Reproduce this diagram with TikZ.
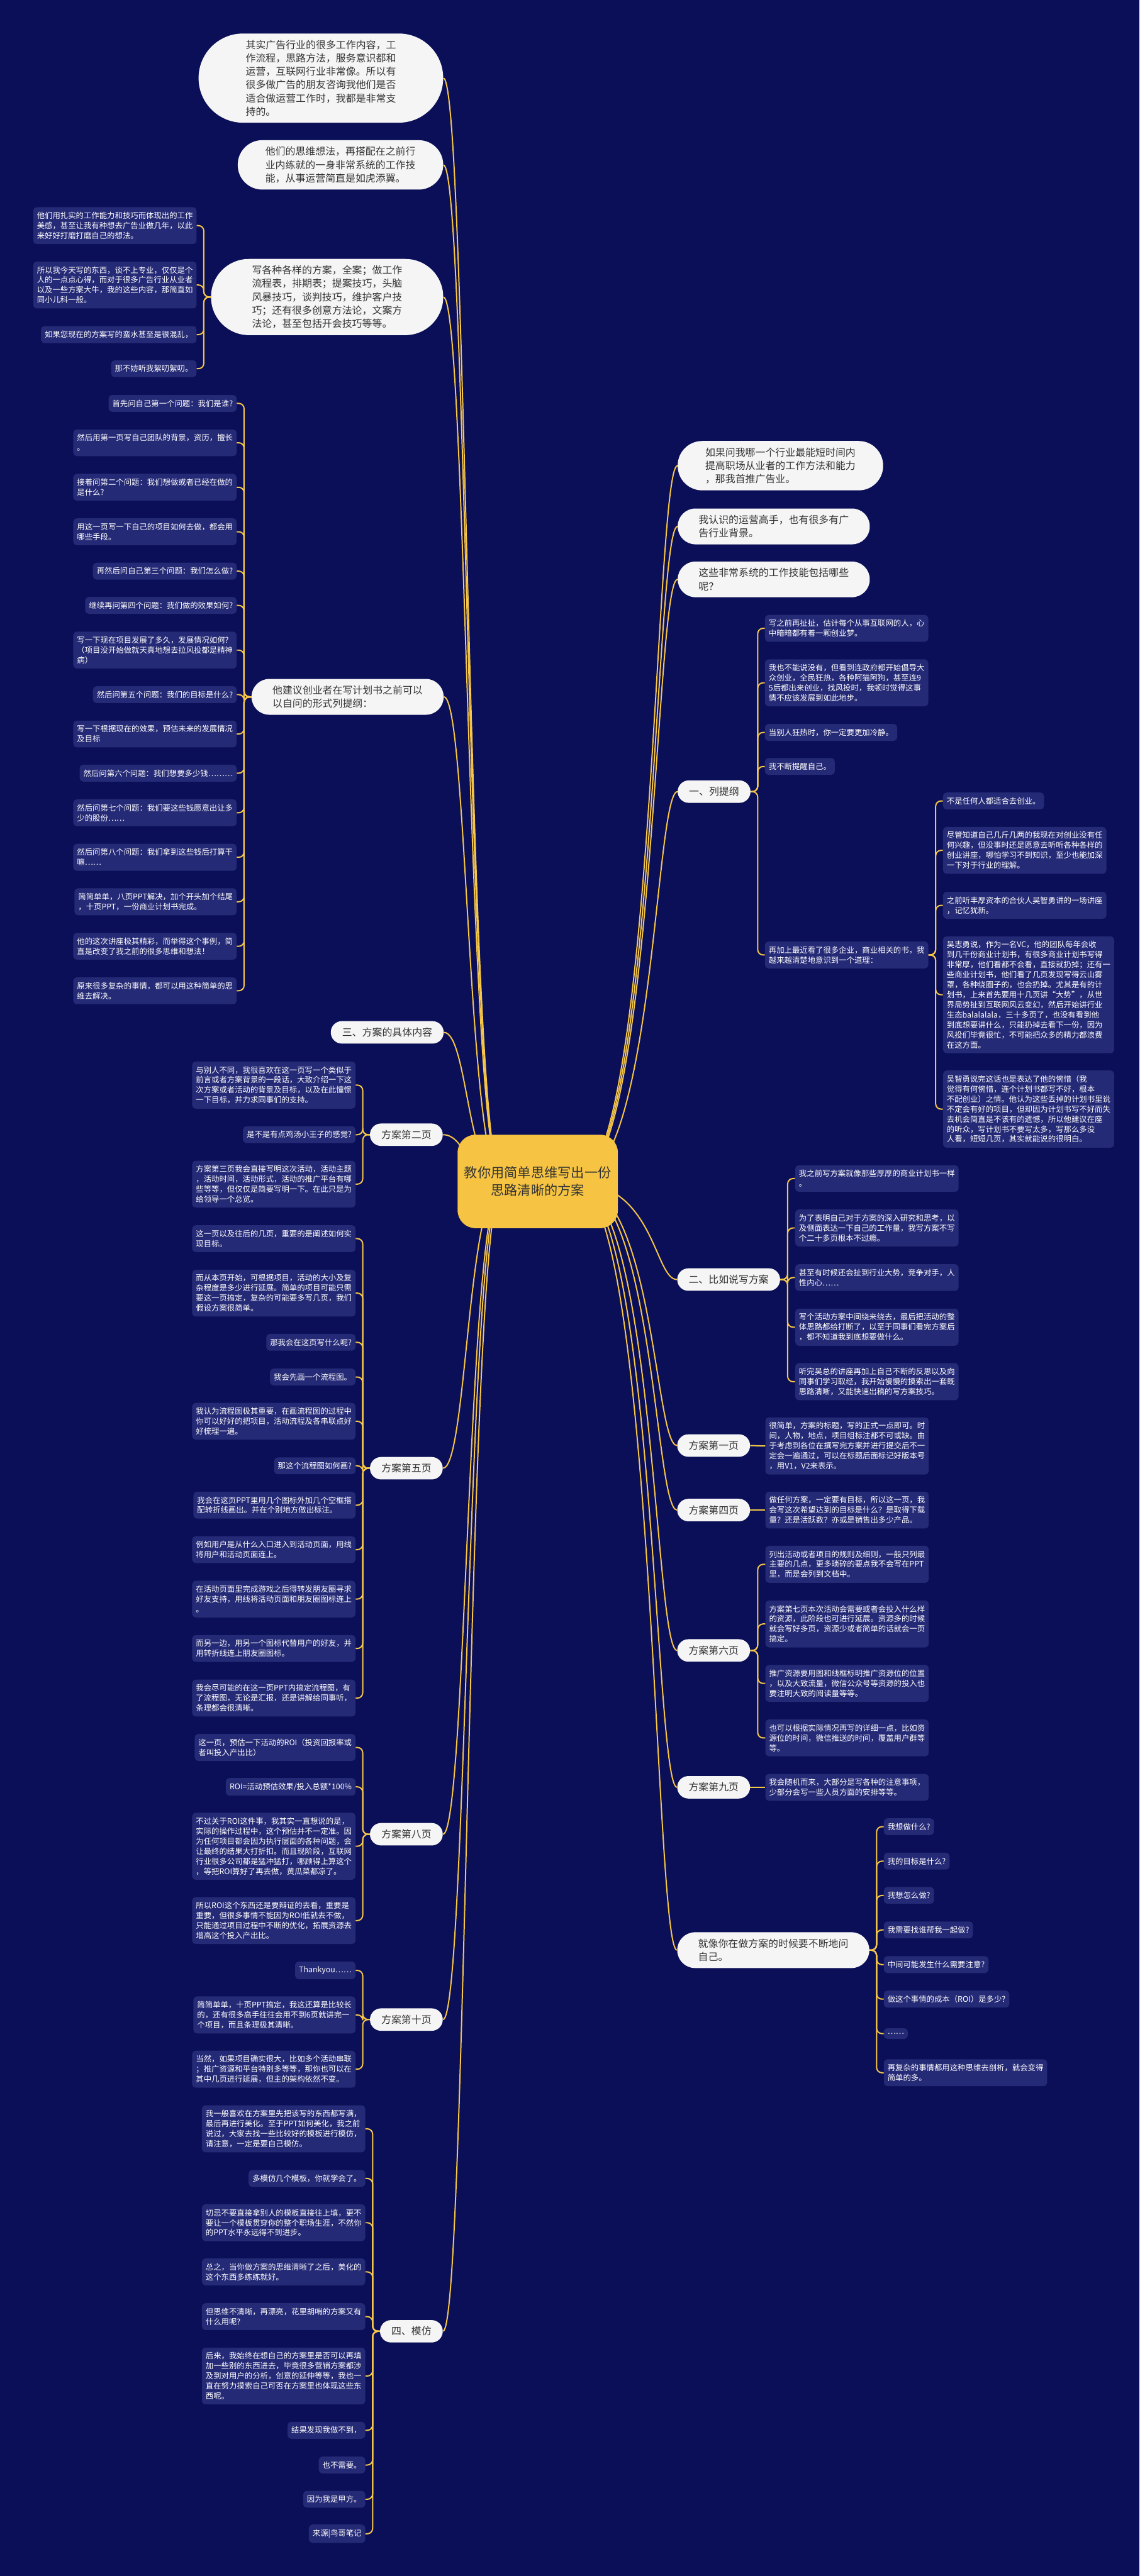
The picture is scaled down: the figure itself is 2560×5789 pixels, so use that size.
\documentclass[tikz,border=0pt]{standalone}
\usepackage{fontspec}
\setmainfont{Noto Sans CJK SC}
\usetikzlibrary{calc}
\definecolor{bg}{RGB}{11,15,88}
\definecolor{notefill}{RGB}{37,42,118}
\definecolor{bubblefill}{RGB}{245,245,245}
\definecolor{bubbletext}{RGB}{51,51,51}
\definecolor{linecol}{RGB}{245,198,72}
\definecolor{rootfill}{RGB}{246,196,66}
\newcommand\nfont{\fontsize{8.75pt}{11.25pt}\selectfont}
\newcommand\bfont{\fontsize{11.25pt}{15pt}\selectfont}
\newcommand\rfont{\fontsize{15pt}{20pt}\selectfont}
\begin{document}
\begin{tikzpicture}[x=0.5pt,y=-0.5pt,
  note/.style={fill=notefill, rounded corners=4pt, text=white, font=\nfont, align=left, inner xsep=4.25pt, inner ysep=5.4pt},
  bubble/.style 2 args={fill=bubblefill, text=bubbletext, font=\bfont, align=left, rounded corners=#1, inner xsep=#2, inner ysep=7.4pt},
  lvl/.style={fill=bubblefill, text=bubbletext, font=\bfont, rounded corners=12.5pt, inner xsep=12.75pt, inner ysep=7.4pt},
  rootnode/.style={fill=rootfill, rounded corners=20pt, text=bubbletext, font=\rfont, align=center, minimum width=180pt, minimum height=105pt},
  link/.style={draw=linecol, line width=1.4pt},
  kid/.style={link, rounded corners=6pt},
]
\fill[bg] (0,0) rectangle (2560,5789);

% ---------- left first level ----------
\node[bubble={50pt}{53pt}, anchor=east] (B1) at (996,175.5) {其实广告行业的很多工作内容，工\\作流程，思路方法，服务意识都和\\运营，互联网行业非常像。所以有\\很多做广告的朋友咨询我他们是否\\适合做运营工作时，我都是非常支\\持的。};
\node[bubble={27.5pt}{31pt}, anchor=east] (B2) at (996,370.5) {他们的思维想法，再搭配在之前行\\业内练就的一身非常系统的工作技\\能，从事运营简直是如虎添翼。};
\node[bubble={42.5pt}{46pt}, anchor=east] (B3) at (996,667.5) {写各种各样的方案，全案；做工作\\流程表，排期表；提案技巧，头脑\\风暴技巧，谈判技巧，维护客户技\\巧；还有很多创意方法论，文案方\\法论，甚至包括开会技巧等等。};
\node[bubble={20pt}{23.5pt}, anchor=east] (Q) at (997,1566) {他建议创业者在写计划书之前可以\\以自问的形式列提纲：};
\node[lvl, anchor=east] (S3) at (997,2320) {三、方案的具体内容};
\node[lvl, anchor=east] (P2) at (995,2550) {方案第二页};
\node[lvl, anchor=east] (P5) at (995,3299.5) {方案第五页};
\node[lvl, anchor=east] (P8) at (995,4122) {方案第八页};
\node[lvl, anchor=east] (P10) at (995,4538.5) {方案第十页};
\node[lvl, anchor=east] (S4) at (995,5239) {四、模仿};

% ---------- right first level ----------
\node[bubble={27.5pt}{31pt}, anchor=west] (R1) at (1522,1046.5) {如果问我哪一个行业最能短时间内\\提高职场从业者的工作方法和能力\\，那我首推广告业。};
\node[bubble={20pt}{23.5pt}, anchor=west] (R2) at (1522,1183) {我认识的运营高手，也有很多有广\\告行业背景。};
\node[bubble={20pt}{23.5pt}, anchor=west] (R3) at (1522,1302) {这些非常系统的工作技能包括哪些\\呢？};
\node[lvl, anchor=west] (S1) at (1522,1779) {一、列提纲};
\node[lvl, anchor=west] (S2) at (1521,2875.5) {二、比如说写方案};
\node[lvl, anchor=west] (P1) at (1521,3248.5) {方案第一页};
\node[lvl, anchor=west] (P4) at (1521,3393.5) {方案第四页};
\node[lvl, anchor=west] (P6) at (1521,3709) {方案第六页};
\node[lvl, anchor=west] (P9) at (1521,4016.5) {方案第九页};
\node[bubble={20pt}{23.5pt}, anchor=west] (JX) at (1521,4382.5) {就像你在做方案的时候要不断地问\\自己。};

% ---------- root connectors ----------
\coordinate (rl) at (1130,2657);
\coordinate (rr) at (1290,2657);
\foreach \c in {B1,B2,B3,Q,S3,P2,P5,P8,P10,S4}{
  \draw[link] (rl) .. controls ($(rl)+(-80,0)$) and ($(\c.east)+(54,0)$) .. (\c.east);
}
\foreach \c in {R1,R2,R3,S1,S2,P1,P4,P6,P9,JX}{
  \draw[link] (rr) .. controls ($(rr)+(180,0)$) and ($(\c.west)+(-51,0)$) .. (\c.west);
}
\node[rootnode] (root) at (1208,2655) {教你用简单思维写出一份\\思路清晰的方案};

% ---------- B3 children ----------
\node[note, anchor=east] (a1) at (442,507) {他们用扎实的工作能力和技巧而体现出的工作\\美感，甚至让我有种想去广告业做几年，以此\\来好好打磨打磨自己的想法。};
\node[note, anchor=east] (a2) at (442,640.5) {所以我今天写的东西，谈不上专业，仅仅是个\\人的一点点心得，而对于很多广告行业从业者\\以及一些方案大牛，我的这些内容，那简直如\\同小儿科一般。};
\node[note, anchor=east] (a3) at (442,752) {如果您现在的方案写的蛮水甚至是很混乱，};
\node[note, anchor=east] (a4) at (442,828.5) {那不妨听我絮叨絮叨。};
\foreach \c in {a1,a2,a3,a4}{
  \draw[kid] (B3.west) -- ($(B3.west)!0.5!(\c.east|-B3.west)$) |- (\c.east);
}

% ---------- Q children ----------
\node[note, anchor=east] (n1) at (532,906.5) {首先问自己第一个问题：我们是谁?};
\node[note, anchor=east] (n2) at (532,995) {然后用第一页写自己团队的背景，资历，擅长\\。};
\node[note, anchor=east] (n3) at (532,1095) {接着问第二个问题：我们想做或者已经在做的\\是什么?};
\node[note, anchor=east] (n4) at (532,1195) {用这一页写一下自己的项目如何去做，都会用\\哪些手段。};
\node[note, anchor=east] (n5) at (532,1283.5) {再然后问自己第三个问题：我们怎么做?};
\node[note, anchor=east] (n6) at (532,1360.5) {继续再问第四个问题：我们做的效果如何?};
\node[note, anchor=east] (n7) at (532,1461) {写一下现在项目发展了多久，发展情况如何?\\（项目没开始做就天真地想去拉风投都是精神\\病）};
\node[note, anchor=east] (n8) at (532,1561) {然后问第五个问题：我们的目标是什么?};
\node[note, anchor=east] (n9) at (532,1649.5) {写一下根据现在的效果，预估未来的发展情况\\及目标};
\node[note, anchor=east] (n10) at (532,1737.5) {然后问第六个问题：我们想要多少钱………};
\node[note, anchor=east] (n11) at (532,1826.5) {然后问第七个问题：我们要这些钱愿意出让多\\少的股份……};
\node[note, anchor=east] (n12) at (532,1926.5) {然后问第八个问题：我们拿到这些钱后打算干\\嘛……};
\node[note, anchor=east] (n13) at (532,2026.5) {简简单单，八页PPT解决，加个开头加个结尾\\，十页PPT，一份商业计划书完成。};
\node[note, anchor=east] (n14) at (532,2126.5) {他的这次讲座极其精彩，而举得这个事例，简\\直是改变了我之前的很多思维和想法！};
\node[note, anchor=east] (n15) at (532,2226.5) {原来很多复杂的事情，都可以用这种简单的思\\维去解决。};
\foreach \c in {n1,n2,n3,n4,n5,n6,n7,n8,n9,n10,n11,n12,n13,n14,n15}{
  \draw[kid] (Q.west) -- ($(Q.west)!0.5!(\c.east|-Q.west)$) |- (\c.east);
}

% ---------- P2 children ----------
\node[note, anchor=east] (q1) at (799,2438.5) {与别人不同，我很喜欢在这一页写一个类似于\\前言或者方案背景的一段话，大致介绍一下这\\次方案或者活动的背景及目标，以及在此憧憬\\一下目标，并力求同事们的支持。};
\node[note, anchor=east] (q2) at (799,2550) {是不是有点鸡汤小王子的感觉?};
\node[note, anchor=east] (q3) at (799,2661) {方案第三页我会直接写明这次活动，活动主题\\，活动时间，活动形式，活动的推广平台有哪\\些等等，但仅仅是简要写明一下。在此只是为\\给领导一个总览。};
\foreach \c in {q1,q2,q3}{
  \draw[kid] (P2.west) -- ($(P2.west)!0.5!(\c.east|-P2.west)$) |- (\c.east);
}

% ---------- P5 children ----------
\node[note, anchor=east] (r1) at (799,2783.5) {这一页以及往后的几页，重要的是阐述如何实\\现目标。};
\node[note, anchor=east] (r2) at (799,2906) {而从本页开始，可根据项目，活动的大小及复\\杂程度是多少进行延展。简单的项目可能只需\\要这一页搞定，复杂的可能要多写几页，我们\\假设方案很简单。};
\node[note, anchor=east] (r3) at (799,3016.5) {那我会在这页写什么呢?};
\node[note, anchor=east] (r4) at (799,3094.5) {我会先画一个流程图。};
\node[note, anchor=east] (r5) at (799,3194) {我认为流程图极其重要，在画流程图的过程中\\你可以好好的把项目，活动流程及各串联点好\\好梳理一遍。};
\node[note, anchor=east] (r6) at (799,3294) {那这个流程图如何画?};
\node[note, anchor=east] (r7) at (799,3382.5) {我会在这页PPT里用几个图标外加几个空框搭\\配转折线画出。并在个别地方做出标注。};
\node[note, anchor=east] (r8) at (799,3482.5) {例如用户是从什么入口进入到活动页面，用线\\将用户和活动页面连上。};
\node[note, anchor=east] (r9) at (799,3593.5) {在活动页面里完成游戏之后得转发朋友圈寻求\\好友支持，用线将活动页面和朋友圈图标连上\\。};
\node[note, anchor=east] (r10) at (799,3704.5) {而另一边，用另一个图标代替用户的好友，并\\用转折线连上朋友圈图标。};
\node[note, anchor=east] (r11) at (799,3816) {我会尽可能的在这一页PPT内搞定流程图，有\\了流程图，无论是汇报，还是讲解给同事听，\\条理都会很清晰。};
\foreach \c in {r1,r2,r3,r4,r5,r6,r7,r8,r9,r10,r11}{
  \draw[kid] (P5.west) -- ($(P5.west)!0.5!(\c.east|-P5.west)$) |- (\c.east);
}

% ---------- P8 children ----------
\node[note, anchor=east] (s1) at (799,3927) {这一页，预估一下活动的ROI（投资回报率或\\者叫投入产出比）};
\node[note, anchor=east] (s2) at (799,4015.5) {ROI=活动预估效果/投入总额*100\%};
\node[note, anchor=east] (s3) at (799,4149) {不过关于ROI这件事，我其实一直想说的是，\\实际的操作过程中，这个预估并不一定准。因\\为任何项目都会因为执行层面的各种问题，会\\让最终的结果大打折扣。而且现阶段，互联网\\行业很多公司都是猛冲猛打，哪顾得上算这个\\，等把ROI算好了再去做，黄瓜菜都凉了。};
\node[note, anchor=east] (s4) at (799,4316) {所以ROI这个东西还是要辩证的去看，重要是\\重要，但很多事情不能因为ROI低就去不做，\\只能通过项目过程中不断的优化，拓展资源去\\增高这个投入产出比。};
\foreach \c in {s1,s2,s3,s4}{
  \draw[kid] (P8.west) -- ($(P8.west)!0.5!(\c.east|-P8.west)$) |- (\c.east);
}

% ---------- P10 children ----------
\node[note, anchor=east] (t1) at (799,4428) {Thankyou……};
\node[note, anchor=east] (t2) at (799,4528) {简简单单，十页PPT搞定，我这还算是比较长\\的，还有很多高手往往会用不到6页就讲完一\\个项目，而且条理极其清晰。};
\node[note, anchor=east] (t3) at (799,4650) {当然，如果项目确实很大，比如多个活动串联\\；推广资源和平台特别多等等，那你也可以在\\其中几页进行延展，但主的架构依然不变。};
\foreach \c in {t1,t2,t3}{
  \draw[kid] (P10.west) -- ($(P10.west)!0.5!(\c.east|-P10.west)$) |- (\c.east);
}

% ---------- S4 children ----------
\node[note, anchor=east] (m1) at (821,4784) {我一般喜欢在方案里先把该写的东西都写满，\\最后再进行美化。至于PPT如何美化，我之前\\说过，大家去找一些比较好的模板进行模仿，\\请注意，一定是要自己模仿。};
\node[note, anchor=east] (m2) at (821,4895.5) {多模仿几个模板，你就学会了。};
\node[note, anchor=east] (m3) at (821,4995) {切忌不要直接拿别人的模板直接往上填，更不\\要让一个模板贯穿你的整个职场生涯，不然你\\的PPT水平永远得不到进步。};
\node[note, anchor=east] (m4) at (821,5105.5) {总之，当你做方案的思维清晰了之后，美化的\\这个东西多练练就好。};
\node[note, anchor=east] (m5) at (821,5206) {但思维不清晰，再漂亮，花里胡哨的方案又有\\什么用呢?};
\node[note, anchor=east] (m6) at (821,5339.5) {后来，我始终在想自己的方案里是否可以再填\\加一些别的东西进去，毕竟很多营销方案都涉\\及到对用户的分析，创意的延伸等等，我也一\\直在努力摸索自己可否在方案里也体现这些东\\西呢。};
\node[note, anchor=east] (m7) at (821,5461.5) {结果发现我做不到，};
\node[note, anchor=east] (m8) at (821,5539.5) {也不需要。};
\node[note, anchor=east] (m9) at (821,5616.5) {因为我是甲方。};
\node[note, anchor=east] (m10) at (821,5694) {来源|鸟哥笔记};
\foreach \c in {m1,m2,m3,m4,m5,m6,m7,m8,m9,m10}{
  \draw[kid] (S4.west) -- ($(S4.west)!0.5!(\c.east|-S4.west)$) |- (\c.east);
}

% ---------- S1 children ----------
\node[note, anchor=west] (c1) at (1718,1412) {写之前再扯扯，估计每个从事互联网的人，心\\中暗暗都有着一颗创业梦。};
\node[note, anchor=west] (c2) at (1718,1534.5) {我也不能说没有，但看到连政府都开始倡导大\\众创业，全民狂热，各种阿猫阿狗，甚至连9\\5后都出来创业，找风投时，我顿时觉得这事\\情不应该发展到如此地步。};
\node[note, anchor=west] (c3) at (1718,1646) {当别人狂热时，你一定要更加冷静。};
\node[note, anchor=west] (c4) at (1718,1722.5) {我不断提醒自己。};
\node[note, anchor=west] (c5) at (1718,2146) {再加上最近看了很多企业，商业相关的书，我\\越来越清楚地意识到一个道理：};
\foreach \c in {c1,c2,c3,c4,c5}{
  \draw[kid] (S1.east) -- ($(S1.east)!0.5!(\c.west|-S1.east)$) |- (\c.west);
}
\node[note, anchor=west] (d1) at (2118,1800) {不是任何人都适合去创业。};
\node[note, anchor=west] (d2) at (2118,1911) {尽管知道自己几斤几两的我现在对创业没有任\\何兴趣，但没事时还是愿意去听听各种各样的\\创业讲座，哪怕学习不到知识，至少也能加深\\一下对于行业的理解。};
\node[note, anchor=west] (d3) at (2118,2034.5) {之前听丰厚资本的合伙人吴智勇讲的一场讲座\\，记忆犹新。};
\node[note, anchor=west] (d4) at (2118,2235.5) {吴志勇说，作为一名VC，他的团队每年会收\\到几千份商业计划书，有很多商业计划书写得\\非常厚，他们看都不会看，直接就扔掉；还有一\\些商业计划书，他们看了几页发现写得云山雾\\罩，各种绕圈子的，也会扔掉。尤其是有的计\\划书，上来首先要用十几页讲“大势”，从世\\界局势扯到互联网风云变幻，然后开始讲行业\\生态balalalala，三十多页了，也没有看到他\\到底想要讲什么，只能扔掉去看下一份，因为\\风投们毕竟很忙，不可能把众多的精力都浪费\\在这方面。};
\node[note, anchor=west] (d5) at (2118,2492.5) {吴智勇说完这话也是表达了他的惋惜（我\\觉得有何惋惜，连个计划书都写不好，根本\\不配创业）之情。他认为这些丢掉的计划书里说\\不定会有好的项目，但却因为计划书写不好而失\\去机会简直是不该有的遗憾，所以他建议在座\\的听众，写计划书不要写太多，写那么多没\\人看，短短几页，其实就能说的很明白。};
\foreach \c in {d1,d2,d3,d4,d5}{
  \draw[kid] (c5.east) -- ($(c5.east)!0.5!(\c.west|-c5.east)$) |- (\c.west);
}

% ---------- S2 children ----------
\node[note, anchor=west] (e1) at (1786,2648.5) {我之前写方案就像那些厚厚的商业计划书一样\\。};
\node[note, anchor=west] (e2) at (1786,2759.5) {为了表明自己对于方案的深入研究和思考，以\\及侧面表达一下自己的工作量，我写方案不写\\个二十多页根本不过瘾。};
\node[note, anchor=west] (e3) at (1786,2871) {甚至有时候还会扯到行业大势，竞争对手，人\\性内心……};
\node[note, anchor=west] (e4) at (1786,2982.5) {写个活动方案中间绕来绕去，最后把活动的整\\体思路都给打断了，以至于同事们看完方案后\\，都不知道我到底想要做什么。};
\node[note, anchor=west] (e5) at (1786,3105) {听完吴总的讲座再加上自己不断的反思以及向\\同事们学习取经，我开始慢慢的摸索出一套既\\思路清晰，又能快速出稿的写方案技巧。};
\foreach \c in {e1,e2,e3,e4,e5}{
  \draw[kid] (S2.east) -- ($(S2.east)!0.5!(\c.west|-S2.east)$) |- (\c.west);
}

% ---------- P1, P4 ----------
\node[note, anchor=west] (f1) at (1719,3249.5) {很简单，方案的标题，写的正式一点即可。时\\间，人物，地点，项目组标注都不可或缺。由\\于考虑到各位在撰写完方案并进行提交后不一\\定会一遍通过，可以在标题后面标记好版本号\\，用V1，V2来表示。};
\draw[link] (P1.east) -- (f1.west);
\node[note, anchor=west] (f4) at (1719,3393.5) {做任何方案，一定要有目标，所以这一页，我\\会写这次希望达到的目标是什么？是取得下载\\量？还是活跃数？亦或是销售出多少产品。};
\draw[link] (P4.east) -- (f4.west);

% ---------- P6 children ----------
\node[note, anchor=west] (g1) at (1719,3515.5) {列出活动或者项目的规则及细则，一般只列最\\主要的几点，更多琐碎的要点我不会写在PPT\\里，而是会列到文档中。};
\node[note, anchor=west] (g2) at (1719,3649.5) {方案第七页本次活动会需要或者会投入什么样\\的资源，此阶段也可进行延展。资源多的时候\\就会写好多页，资源少或者简单的话就会一页\\搞定。};
\node[note, anchor=west] (g3) at (1719,3783) {推广资源要用图和线框标明推广资源位的位置\\，以及大致流量，微信公众号等资源的投入也\\要注明大致的阅读量等等。};
\node[note, anchor=west] (g4) at (1719,3905.5) {也可以根据实际情况再写的详细一点，比如资\\源位的时间，微信推送的时间，覆盖用户群等\\等。};
\foreach \c in {g1,g2,g3,g4}{
  \draw[kid] (P6.east) -- ($(P6.east)!0.5!(\c.west|-P6.east)$) |- (\c.west);
}

% ---------- P9 ----------
\node[note, anchor=west] (h1) at (1719,4016.5) {我会随机而来，大部分是写各种的注意事项，\\少部分会写一些人员方面的安排等等。};
\draw[link] (P9.east) -- (h1.west);

% ---------- JX children ----------
\node[note, anchor=west] (k1) at (1985,4105) {我想做什么?};
\node[note, anchor=west] (k2) at (1985,4182.5) {我的目标是什么?};
\node[note, anchor=west] (k3) at (1985,4259.5) {我想怎么做?};
\node[note, anchor=west] (k4) at (1985,4337) {我需要找谁帮我一起做?};
\node[note, anchor=west] (k5) at (1985,4415) {中间可能发生什么需要注意?};
\node[note, anchor=west] (k6) at (1985,4492.5) {做这个事情的成本（ROI）是多少?};
\node[note, anchor=west] (k7) at (1985,4570) {……};
\node[note, anchor=west] (k8) at (1985,4658) {再复杂的事情都用这种思维去剖析，就会变得\\简单的多。};
\foreach \c in {k1,k2,k3,k4,k5,k6,k7,k8}{
  \draw[kid] (JX.east) -- ($(JX.east)!0.5!(\c.west|-JX.east)$) |- (\c.west);
}
\end{tikzpicture}
\end{document}
